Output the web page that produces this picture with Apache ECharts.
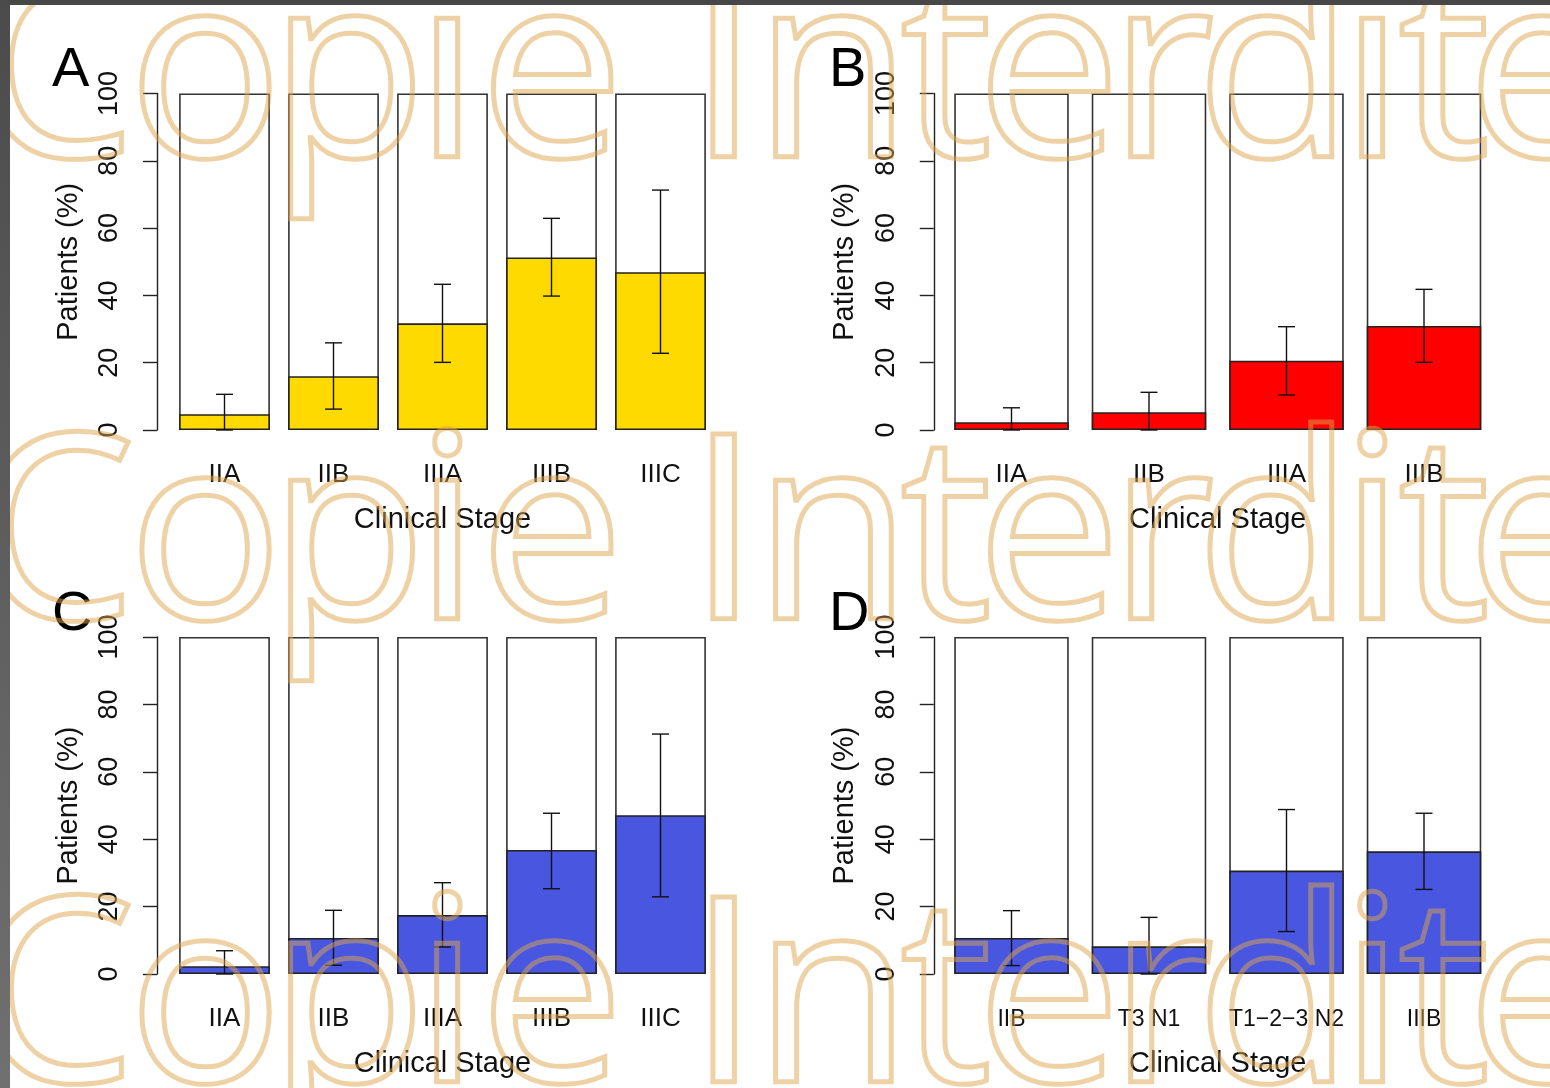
<!DOCTYPE html>
<html><head><meta charset="utf-8">
<script src="https://cdn.jsdelivr.net/npm/echarts@6/dist/echarts.min.js"></script>
<style>html,body{margin:0;padding:0;background:#fff}#c{width:1550px;height:1088px}</style>
</head><body><div id="c"></div>
<script>
// ---- data ----
const catsA = ['IIA', 'IIB', 'IIIA', 'IIIB', 'IIIC'];
const pctA  = [4.7, 16.0, 31.7, 51.3, 46.9];
const loA   = [0, 6.2, 20.1, 39.8, 22.8];
const hiA   = [10.6, 25.9, 43.3, 62.9, 71.3];

const catsB = ['IIA', 'IIB', 'IIIA', 'IIIB'];
const pctB  = [2.3, 5.3, 20.6, 30.9];
const loB   = [0, 0, 10.4, 20.1];
const hiB   = [6.6, 11.2, 30.7, 41.8];

const catsC = ['IIA', 'IIB', 'IIIA', 'IIIB', 'IIIC'];
const pctC  = [2.3, 10.7, 17.5, 36.8, 47.1];
const loC   = [0, 2.6, 8.0, 25.3, 22.9];
const hiC   = [6.9, 18.9, 27.1, 47.7, 71.2];

const catsD = ['IIB', 'T3 N1', 'T1\u22122\u22123 N2', 'IIIB'];
const pctD  = [10.7, 8.2, 30.7, 36.4];
const loD   = [2.5, 0, 12.6, 25.1];
const hiD   = [18.8, 16.8, 48.8, 47.7];

const FULL = 100;
const yTicks = [0, 20, 40, 60, 80, 100];
const panelLetters = ['A', 'B', 'C', 'D'];
const xTitle = 'Clinical Stage';
const yTitle = 'Patients (%)';
const watermarkText = 'Copie Interdite';

// ---- layout / style ----
const FONT = '"Liberation Sans", Arial, Helvetica, sans-serif';
const panels = [
  {cats: catsA, pct: pctA, lo: loA, hi: hiA, color: '#FFDA00', left: 170, width: 545, top: 93.5, height: 336.5, offset: 13, catSize: 26},
  {cats: catsB, pct: pctB, lo: loB, hi: hiB, color: '#FF0000', left: 942.75, width: 550, top: 93.5, height: 336.5, offset: 9, catSize: 26},
  {cats: catsC, pct: pctC, lo: loC, hi: hiC, color: '#4856E0', left: 170, width: 545, top: 637, height: 337, offset: 13, catSize: 26},
  {cats: catsD, pct: pctD, lo: loD, hi: hiD, color: '#4856E0', left: 942.75, width: 550, top: 637, height: 337, offset: 9, catSize: 23}
];

function renderErr(params, api) {
  const x = api.value(0), lo = api.value(1), hi = api.value(2);
  const pLo = api.coord([x, lo]), pHi = api.coord([x, hi]);
  const w = 8.5;
  const st = {stroke: '#111', lineWidth: 1.4};
  return {type: 'group', children: [
    {type: 'line', shape: {x1: pLo[0], y1: pLo[1], x2: pHi[0], y2: pHi[1]}, style: st},
    {type: 'line', shape: {x1: pHi[0] - w, y1: pHi[1], x2: pHi[0] + w, y2: pHi[1]}, style: st},
    {type: 'line', shape: {x1: pLo[0] - w, y1: pLo[1], x2: pLo[0] + w, y2: pLo[1]}, style: st}
  ]};
}

const grid = [], xAxis = [], yAxis = [], series = [];
panels.forEach((p, i) => {
  grid.push({left: p.left, top: p.top, width: p.width, height: p.height, containLabel: false, outerBoundsMode: 'none'});
  xAxis.push({
    type: 'category', gridIndex: i, data: p.cats,
    axisLine: {show: false}, axisTick: {show: false},
    axisLabel: {interval: 0, margin: i === 3 ? 34 : 32, fontSize: p.catSize, fontFamily: FONT, color: '#111'},
    name: xTitle, nameLocation: 'middle', nameGap: 75,
    nameTextStyle: {fontSize: 29, fontFamily: FONT, color: '#111'}
  });
  yAxis.push({
    type: 'value', gridIndex: i, min: yTicks[0], max: yTicks[yTicks.length - 1], interval: 20,
    offset: p.offset,
    axisLine: {show: true, lineStyle: {color: '#222', width: 1.4}},
    axisTick: {show: true, length: 14, lineStyle: {color: '#222', width: 1.4}},
    splitLine: {show: false},
    axisLabel: {rotate: 90, margin: 34, fontSize: 27, fontFamily: FONT, color: '#111'},
    name: yTitle, nameLocation: 'middle', nameGap: 74,
    nameTextStyle: {fontSize: 29, fontFamily: FONT, color: '#111'}
  });
  series.push({
    type: 'bar', xAxisIndex: i, yAxisIndex: i, data: p.cats.map(() => FULL),
    barCategoryGap: '16.7%', barGap: '-100%', silent: true, z: 1,
    itemStyle: {color: '#fff', borderColor: '#333', borderWidth: 1.6}
  });
  series.push({
    type: 'bar', xAxisIndex: i, yAxisIndex: i, data: p.pct,
    barCategoryGap: '16.7%', barGap: '-100%', z: 2,
    itemStyle: {color: p.color, borderColor: '#222', borderWidth: 1.6}
  });
  series.push({
    type: 'custom', xAxisIndex: i, yAxisIndex: i, z: 3,
    data: p.lo.map((l, j) => [j, l, p.hi[j]]),
    encode: {x: 0, y: [1, 2]},
    renderItem: renderErr
  });
});

// panel letters
const letterPos = [[52, 71], [829, 71], [52, 615], [829, 615]];
const graphic = panelLetters.map((t, i) => ({
  type: 'text', x: letterPos[i][0], y: letterPos[i][1], z: 50,
  style: {text: t, font: '56px ' + FONT, fill: '#000', verticalAlign: 'middle', align: 'left'}
}));

// watermark: one glyph per element, placed as in the photo
const wmBaselines = [157, 619, 1082];
const wmGlyphX = [-27, 127.5, 268.5, 414.5, 479, null, 687.6, 753.5, 900, 976, 1108.5, 1195.5, 1339.5, 1398, 1466.5];
const wmChars = Array.from(watermarkText);
wmBaselines.forEach(b => {
  wmChars.forEach((ch, k) => {
    if (ch === ' ' || wmGlyphX[k] == null) return;
    graphic.push({
      type: 'text', x: wmGlyphX[k], y: b - 74, z: 100, silent: true,
      style: {text: ch, font: '259px "Open Sans"', fill: 'none',
              stroke: 'rgba(222,165,75,0.5)', lineWidth: 5,
              verticalAlign: 'middle', align: 'left'}
    });
  });
});

// dark photo border
graphic.push({type: 'rect', z: 200, shape: {x: 0, y: 0, width: 1550, height: 5}, style: {fill: '#474747'}});
graphic.push({type: 'rect', z: 200, shape: {x: 0, y: 0, width: 10, height: 1088},
  style: {fill: new echarts.graphic.LinearGradient(0, 0, 0, 1, [{offset: 0, color: '#4b4b4b'}, {offset: 1, color: '#707070'}])}});

const chart = echarts.init(document.getElementById('c'), null, {renderer: 'canvas'});
chart.setOption({
  animation: false,
  backgroundColor: '#fff',
  grid, xAxis, yAxis, series, graphic
});
</script>
</body></html>
